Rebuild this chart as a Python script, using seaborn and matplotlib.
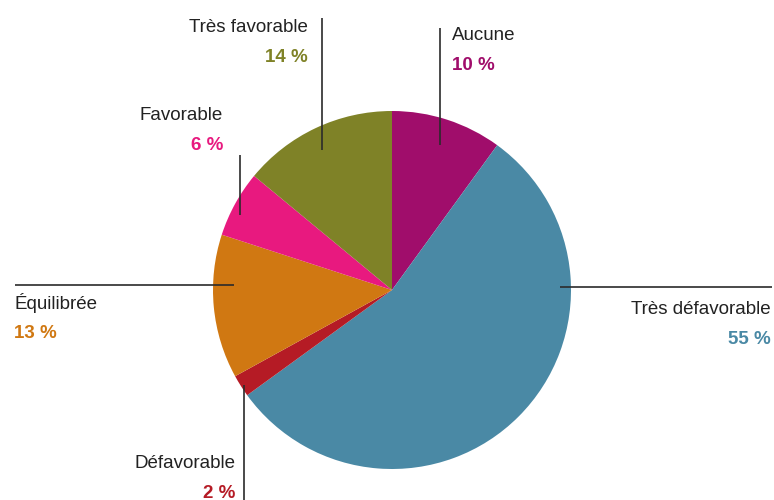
import matplotlib.pyplot as plt
import seaborn as sns

# Data
labels = ['Aucune', 'Très défavorable', 'Défavorable', 'Équilibrée', 'Favorable', 'Très favorable']
values = [10, 55, 2, 13, 6, 14]
colors = ['#A00D6B', '#4A89A5', '#B51B25', '#D07812', '#E8197F', '#7F8227']

# label layout: text x, text y (pixel, top-down), alignment, leader line (x0, y0, x1, y1)
label_pos = [
    (452, 35, 'left', (440, 28, 440, 145)),
    (771, 310, 'right', (560, 287, 772, 287)),
    (235, 463, 'right', (244, 385, 244, 500)),
    (14, 303, 'left', (15, 285, 234, 285)),
    (223, 115, 'right', (240, 155, 240, 215)),
    (308, 28, 'right', (322, 18, 322, 150)),
]

sns.set_theme(style='white')
plt.rcParams['font.family'] = ['Liberation Sans Narrow', 'Liberation Sans', 'DejaVu Sans']

W, H = 774, 500
fig = plt.figure(figsize=(W / 100, H / 100), dpi=100)
ax = fig.add_axes([0, 0, 1, 1])

ax.pie(values, colors=colors, startangle=90, counterclock=False,
       center=(392, H - 290), radius=179,
       wedgeprops=dict(linewidth=0, antialiased=True))

for lab, val, col, (tx, ty, ha, (x0, y0, x1, y1)) in zip(labels, values, colors, label_pos):
    ax.plot([x0, x1], [H - y0, H - y1], color='#2b2b2b', lw=1.2, solid_capstyle='butt')
    ax.text(tx, H - ty, lab, ha=ha, va='center', fontsize=13.5, color='#222222')
    ax.text(tx, H - ty - 30, f'{val} %', ha=ha, va='center', fontsize=13.5,
            fontweight='bold', color=col)

ax.set_xlim(0, W)
ax.set_ylim(0, H)
ax.set_aspect('auto')
ax.axis('off')

fig.savefig('out.png', dpi=100)
